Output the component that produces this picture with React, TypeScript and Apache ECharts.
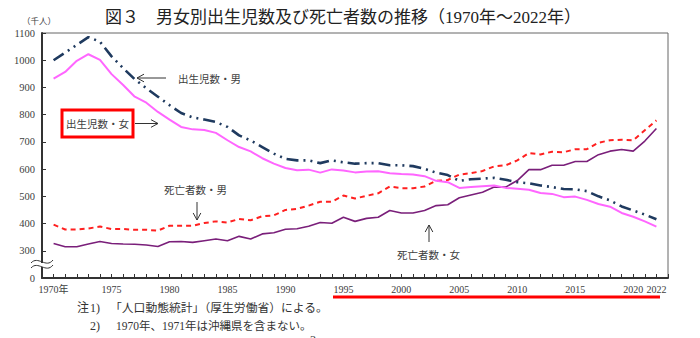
import React, { useEffect, useRef } from "react";
import * as echarts from "echarts";

const years: number[] = [
  1970, 1971, 1972, 1973, 1974, 1975, 1976, 1977, 1978, 1979,
  1980, 1981, 1982, 1983, 1984, 1985, 1986, 1987, 1988, 1989,
  1990, 1991, 1992, 1993, 1994, 1995, 1996, 1997, 1998, 1999,
  2000, 2001, 2002, 2003, 2004, 2005, 2006, 2007, 2008, 2009,
  2010, 2011, 2012, 2013, 2014, 2015, 2016, 2017, 2018, 2019,
  2020, 2021, 2022,
];

// 出生児数・男 (千人)
const birthsMale: number[] = [
  1000, 1028, 1056, 1085, 1068, 1014, 971, 930, 897, 866,
  835, 806, 790, 782, 773, 755, 724, 705, 681, 657,
  638, 632, 632, 622, 632, 625, 620, 622, 622, 614,
  614, 611, 601, 587, 578, 557, 563, 565, 568, 561,
  552, 548, 540, 534, 527, 526, 519, 500, 485, 463,
  448, 433, 416,
];

// 出生児数・女
const birthsFemale: number[] = [
  932, 957, 998, 1022, 1001, 949, 909, 866, 844, 810,
  782, 755, 746, 744, 733, 706, 681, 665, 640, 620,
  604, 596, 598, 587, 599, 595, 588, 591, 592, 585,
  582, 580, 574, 557, 552, 531, 534, 537, 540, 531,
  528, 524, 512, 509, 497, 499, 487, 472, 462, 439,
  425, 408, 389,
];

// 死亡者数・男
const deathsMale: number[] = [
  396, 378, 378, 382, 389, 380, 380, 377, 377, 374,
  392, 392, 392, 402, 408, 404, 417, 412, 427, 430,
  450, 454, 466, 480, 480, 503, 492, 502, 511, 536,
  530, 530, 536, 557, 560, 580, 585, 593, 610, 614,
  632, 659, 654, 664, 662, 673, 673, 697, 706, 708,
  706, 743, 779,
];

// 死亡者数・女
const deathsFemale: number[] = [
  327, 315, 315, 325, 334, 327, 325, 324, 321, 316,
  333, 334, 331, 337, 343, 337, 353, 343, 362, 366,
  379, 381, 390, 404, 401, 423, 408, 419, 423, 448,
  439, 439, 448, 466, 469, 495, 505, 515, 534, 534,
  558, 598, 598, 614, 614, 628, 628, 653, 666, 672,
  666, 703, 749,
];

const xTickLabels: number[] = [1970, 1975, 1980, 1985, 1990, 1995, 2000, 2005, 2010, 2015, 2020, 2022];
const yTickLabels: number[] = [300, 400, 500, 600, 700, 800, 900, 1000, 1100];

const SERIF = "'Liberation Serif', 'Noto Sans CJK JP', serif";
const JP = "'Noto Sans CJK JP', sans-serif";
const TXT = "#404040";

function pairs(vals: number[]) {
  return years.map((y, i) => [y, vals[i]]);
}

function arrow(x1: number, y1: number, x2: number, y2: number): any[] {
  const ang = Math.atan2(y2 - y1, x2 - x1);
  const len = 8;
  const spread = 0.5;
  const ax = x2 - len * Math.cos(ang - spread);
  const ay = y2 - len * Math.sin(ang - spread);
  const bx = x2 - len * Math.cos(ang + spread);
  const by = y2 - len * Math.sin(ang + spread);
  const st = { stroke: "#333", lineWidth: 1, fill: "none" };
  return [
    { type: "line", z: 100, shape: { x1, y1, x2, y2 }, style: st },
    { type: "polyline", z: 100, shape: { points: [[ax, ay], [x2, y2], [bx, by]] }, style: st },
  ];
}

function jpText(text: string, x: number, y: number, size: number, align = "left", extra: any = {}) {
  return {
    type: "text",
    z: 100,
    x,
    y,
    style: {
      text,
      fontFamily: extra.fontFamily || JP,
      fontSize: size,
      fill: extra.fill || TXT,
      align,
      verticalAlign: "middle",
    },
  };
}

export default function App() {
  const ref = useRef<HTMLDivElement>(null);

  useEffect(() => {
    if (!ref.current) return;
    const chart = echarts.init(ref.current, undefined, { renderer: "svg" });

    const option: any = {
      animation: false,
      backgroundColor: "#ffffff",
      grid: {
        left: 42,
        right: 32,
        top: 33,
        bottom: 60,
        show: true,
        borderColor: "#666",
        borderWidth: 1,
      },
      xAxis: {
        type: "value",
        min: 1969,
        max: 2023,
        interval: 1,
        axisLine: { onZero: false, lineStyle: { color: "#333", width: 2 } },
        axisTick: { inside: true, length: 4, lineStyle: { color: "#333", width: 1 } },
        splitLine: { show: false },
        axisLabel: {
          hideOverlap: false,
          showMinLabel: true,
          showMaxLabel: true,
          margin: 6,
          fontFamily: SERIF,
          fontSize: 10,
          color: TXT,
          formatter: (v: number) => {
            if (!xTickLabels.includes(v)) return "";
            return v === 1970 ? "1970年" : String(v);
          },
        },
      },
      yAxis: {
        type: "value",
        min: 200,
        max: 1100,
        interval: 100,
        axisLine: { show: true, lineStyle: { color: "#333", width: 2 } },
        axisTick: { show: true, inside: true, length: 4, lineStyle: { color: "#333", width: 1 } },
        splitLine: { show: false },
        axisLabel: {
          margin: 7,
          fontFamily: SERIF,
          fontSize: 10.5,
          color: TXT,
          formatter: (v: number) => (v === 200 ? "0" : yTickLabels.includes(v) ? String(v) : ""),
        },
      },
      series: [
        {
          name: "死亡者数・女",
          type: "line",
          data: pairs(deathsFemale),
          showSymbol: false,
          symbol: "none",
          lineStyle: { color: "#7a1f7a", width: 1.6 },
          z: 3,
        },
        {
          name: "死亡者数・男",
          type: "line",
          data: pairs(deathsMale),
          showSymbol: false,
          symbol: "none",
          lineStyle: { color: "#ff2020", width: 2, type: [5, 4] },
          z: 4,
        },
        {
          name: "出生児数・女",
          type: "line",
          data: pairs(birthsFemale),
          showSymbol: false,
          symbol: "none",
          lineStyle: { color: "#ff66ff", width: 2 },
          z: 5,
        },
        {
          name: "出生児数・男",
          type: "line",
          data: pairs(birthsMale),
          showSymbol: false,
          symbol: "none",
          lineStyle: { color: "#1f3a5f", width: 2.6, type: [12, 5, 2, 5, 2, 5], cap: "butt" },
          z: 6,
        },
      ],
      graphic: [
        // title
        jpText("図３　男女別出生児数及び死亡者数の推移（1970年～2022年）", 105, 17, 17, "left", {
          fontFamily: SERIF,
          fill: "#222",
        }),
        // unit
        jpText("（千人）", 22, 20, 8.5),
        // axis break
        { type: "rect", z: 100, shape: { x: 38, y: 263, width: 8, height: 4 }, style: { fill: "#fff" } },
        {
          type: "bezierCurve",
          z: 101,
          shape: { x1: 31, y1: 263, cpx1: 38, cpy1: 255, cpx2: 46, cpy2: 269, x2: 53, y2: 260 },
          style: { stroke: "#333", lineWidth: 1, fill: "none" },
        },
        {
          type: "bezierCurve",
          z: 101,
          shape: { x1: 31, y1: 268, cpx1: 38, cpy1: 260, cpx2: 46, cpy2: 274, x2: 53, y2: 265 },
          style: { stroke: "#333", lineWidth: 1, fill: "none" },
        },
        // annotations
        jpText("出生児数・男", 178, 78, 10.5),
        ...arrow(166, 78, 137, 78),
        {
          type: "rect",
          z: 99,
          shape: { x: 62, y: 110, width: 71, height: 27 },
          style: { fill: "#fff", stroke: "#ff0000", lineWidth: 3 },
        },
        jpText("出生児数・女", 97.5, 123.5, 10.5, "center"),
        ...arrow(135, 123.5, 158, 123.5),
        jpText("死亡者数・男", 164, 189, 10.5),
        ...arrow(197, 202, 197, 220),
        jpText("死亡者数・女", 397, 254, 10.5),
        ...arrow(429, 242, 429, 225),
        // red underline
        {
          type: "line",
          z: 100,
          shape: { x1: 333, y1: 297, x2: 660, y2: 297 },
          style: { stroke: "#ff0000", lineWidth: 3 },
        },
        // notes
        jpText("注", 77, 308, 12, "left", { fontFamily: SERIF, fill: "#333" }),
        jpText("1)", 90, 308, 12, "left", { fontFamily: SERIF, fill: "#333" }),
        jpText("「人口動態統計」（厚生労働省）による。", 110, 308, 11.8, "left", { fontFamily: SERIF, fill: "#333" }),
        jpText("2)", 90, 326, 12, "left", { fontFamily: SERIF, fill: "#333" }),
        jpText("1970年、1971年は沖縄県を含まない。", 116, 326, 11.5, "left", { fontFamily: SERIF, fill: "#333" }),
        jpText("3", 313, 340, 12, "center", { fontFamily: SERIF, fill: "#333" }),
      ],
    };

    chart.setOption(option);
    return () => {
      chart.dispose();
    };
  }, []);

  return (
    <div
      ref={ref}
      style={{ position: "fixed", left: 0, top: 0, width: 700, height: 338, background: "#fff" }}
    />
  );
}
